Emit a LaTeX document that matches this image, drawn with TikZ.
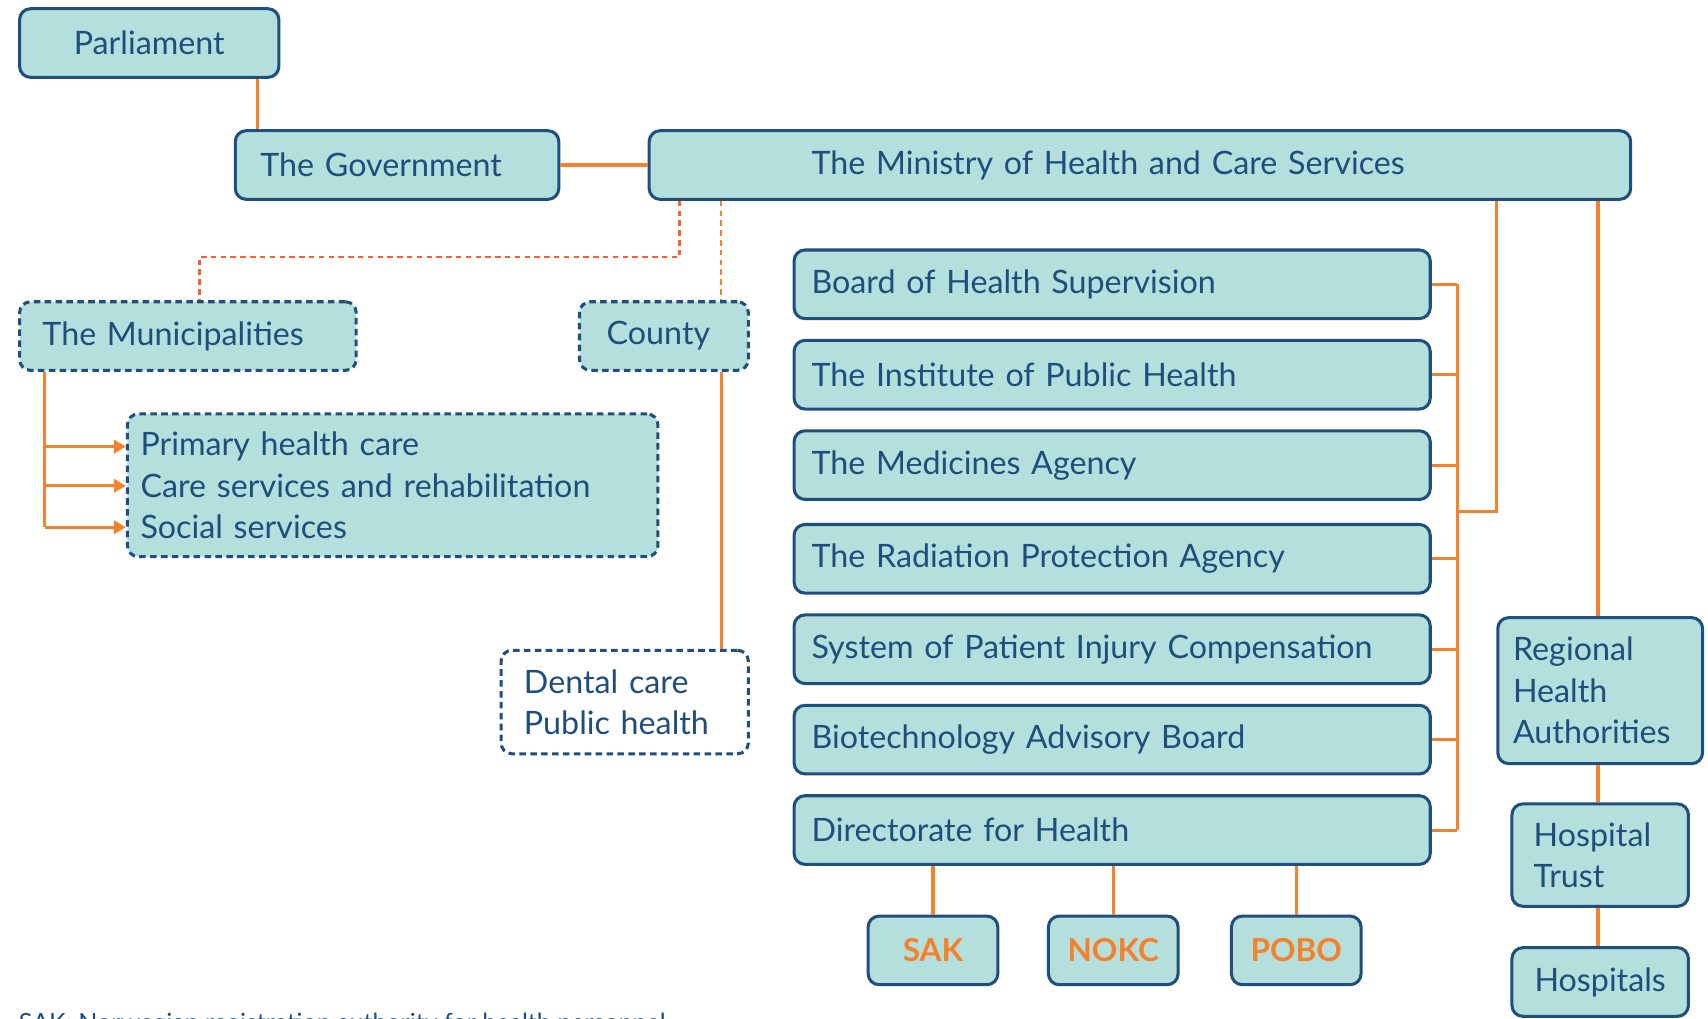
\documentclass[tikz,border=0pt]{standalone}
\usepackage{fontspec}
\setmainfont{Lato}
\usetikzlibrary{arrows.meta,calc}
\definecolor{boxfill}{HTML}{B4DFDD}
\definecolor{boxline}{HTML}{1E4F7D}
\definecolor{txt}{HTML}{1F4E7C}
\definecolor{org}{HTML}{F5822A}
\definecolor{redorg}{HTML}{EE6236}
\tikzset{
  box/.style={draw=boxline, fill=boxfill, line width=1.4pt, rounded corners=5pt,
    text=txt, font=\fontsize{14.8}{19}\selectfont, inner ysep=0pt, minimum height=31.5pt},
  dbox/.style={box, dash pattern=on 3pt off 2pt},
  lb/.style 2 args={minimum width=#1pt, inner xsep=#2pt,
    /utils/exec={\pgfmathsetmacro\boxtw{#1-2*#2}}, text width=\boxtw pt, align=left},
  cb/.style={minimum width=#1pt, align=center},
  conn/.style={draw=org, line width=1.4pt},
  dconn/.style={conn, line width=1.2pt, dash pattern=on 2.5pt off 2pt},
  acro/.style={box, cb=59.5, text=org, font=\fontsize{14.5}{17}\selectfont\bfseries},
  tip/.style={-{Triangle[length=5.5pt,width=6pt]}},
}
\begin{document}
\begin{tikzpicture}[x=0.5pt,y=-0.5pt]
\useasboundingbox (0,0) rectangle (1568,935);
\fill[white] (0,0) rectangle (1568,935);

% top
\node[box, cb=119] (parl) at (137,39.5) {Parliament};
\node[box, lb={148.5}{11.5}] (gov) at (364.5,151.5) {The Government};
\node[box, lb={450.5}{74.5}] (min) at (1046.5,151.5) {The Ministry of Health and Care Services};

% left side
\node[dbox, lb={154.5}{10.5}] (mun) at (172.5,308.5) {The Municipalities};
\node[dbox, lb={77.5}{12.5}] (county) at (609.5,308.5) {County};
\node[dbox, lb={243.5}{6}, minimum height=65.5pt] (serv) at (360.5,445.5)
  {Primary health care\\Care services and rehabilitation\\Social services};
\node[dbox, fill=white, lb={113.5}{10.5}, minimum height=47.5pt] (dental) at (573.5,644.5)
  {Dental care\\Public health};

% agencies column
\node[box, lb={292}{8}] (b1) at (1021,261) {Board of Health Supervision};
\node[box, lb={292}{8}] (b2) at (1021,344) {The Institute of Public Health};
\node[box, lb={292}{8}] (b3) at (1021,427) {The Medicines Agency};
\node[box, lb={292}{8}] (b4) at (1021,513) {The Radiation Protection Agency};
\node[box, lb={292}{8}] (b5) at (1021,596) {System of Patient Injury Compensation};
\node[box, lb={292}{8}] (b6) at (1021,679) {Biotechnology Advisory Board};
\node[box, lb={292}{8}] (b7) at (1021,762) {Directorate for Health};

\node[acro] (sak) at (856.5,872.5) {SAK};
\node[acro] (nokc) at (1022,872.5) {NOKC};
\node[acro] (pobo) at (1190,872.5) {POBO};

% hospitals column
\node[box, lb={94}{7}, minimum height=67pt] (rha) at (1469,634) {Regional\\Health\\Authorities};
\node[box, lb={81}{10}, minimum height=47pt] (trust) at (1469,785) {Hospital\\Trust};
\node[box, cb=81] (hosp) at (1469,901.5) {Hospitals};

\node[anchor=base west, inner sep=0pt, text=txt, font=\fontsize{11.5}{14}\selectfont] (foot) at (17,947)
  {SAK: Norwegian registration authority for health personnel};

% helper coordinates
\coordinate (xpg) at (236,0);
\coordinate (xd1) at (624,0);
\coordinate (xd2) at (662,0);
\coordinate (j1) at (183,236);
\coordinate (xm) at (41,0);
\coordinate (a1) at (0,410);
\coordinate (a2) at (0,446);
\coordinate (a3) at (0,484);
\coordinate (xb) at (1338,0);
\coordinate (jb) at (1338,470);
\coordinate (xr) at (1374,0);
\coordinate (xh) at (1467,0);

% connectors
\draw[conn] (parl.south -| xpg) -- (gov.north -| xpg);
\draw[conn] (gov.east) -- (min.west);
\draw[dconn, draw=redorg] (min.south -| xd1) |- (j1) -- (mun.north -| j1);
\draw[dconn] (min.south -| xd2) -- (county.north -| xd2);
\draw[conn] (county.south -| xd2) -- (dental.north -| xd2);

\draw[conn] (mun.south -| xm) -- (a3 -| xm);
\draw[conn, tip] (a1 -| xm) -- (a1 -| serv.west);
\draw[conn, tip] (a2 -| xm) -- (a2 -| serv.west);
\draw[conn, tip] (a3 -| xm) -- (a3 -| serv.west);

\foreach \b in {b1,b2,b3,b4,b5,b6,b7}{
  \draw[conn] (\b.east) -- (\b.east -| xb);
}
\draw[conn] (b1.east -| xb) -- (b7.east -| xb);
\draw[conn] (jb) -| (min.south -| xr);

\draw[conn] (min.south -| xh) -- (rha.north -| xh);
\draw[conn] (rha.south -| xh) -- (trust.north -| xh);
\draw[conn] (trust.south -| xh) -- (hosp.north -| xh);

\draw[conn] (b7.south -| sak.north) -- (sak.north);
\draw[conn] (b7.south -| nokc.north) -- (nokc.north);
\draw[conn] (b7.south -| pobo.north) -- (pobo.north);
\end{tikzpicture}
\end{document}
